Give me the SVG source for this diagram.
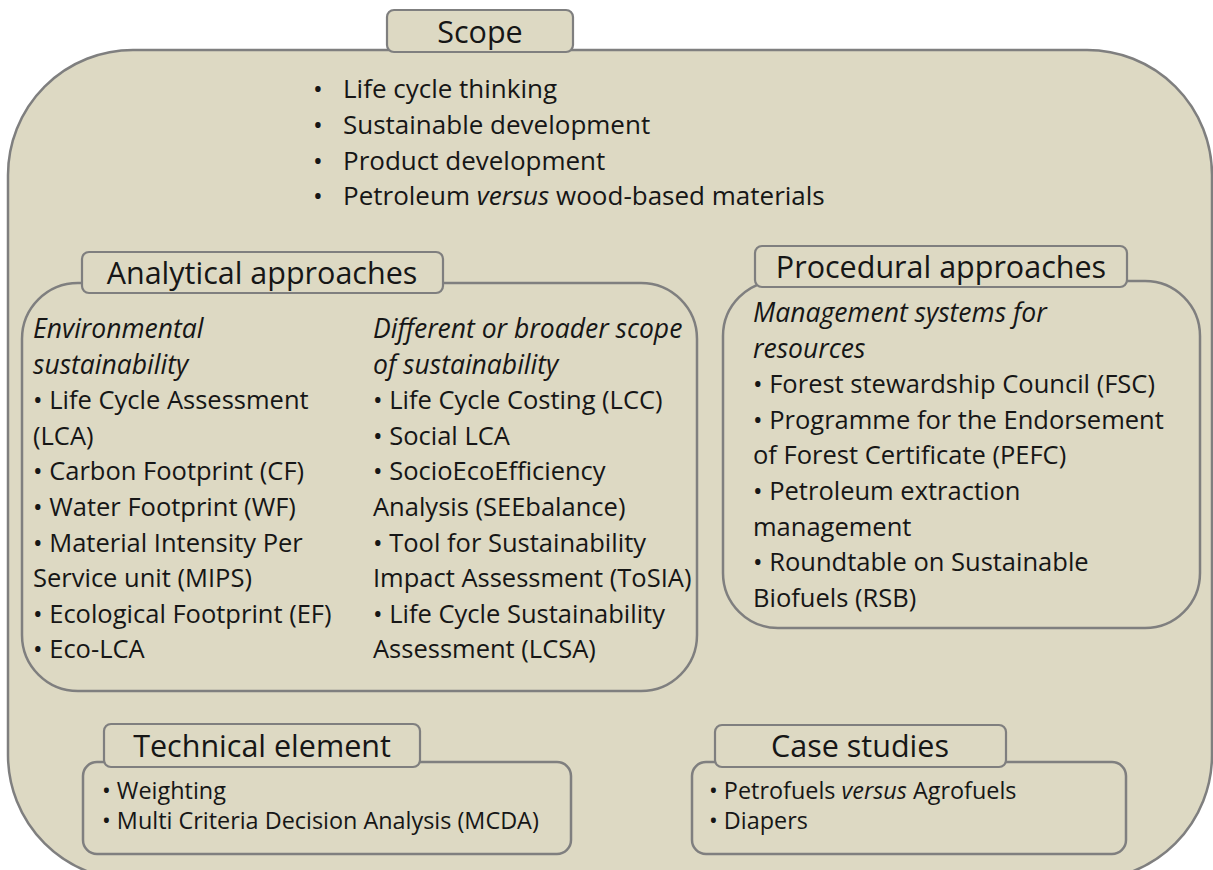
<svg xmlns="http://www.w3.org/2000/svg" width="1213" height="870" viewBox="0 0 1213 870">
<style>
.box{fill:#DDD9C3;stroke:#7f7f7f;stroke-width:2.5}
.tab{fill:#DDD9C3;stroke:#7f7f7f;stroke-width:2.2}
text{font-family:"Open Sans","Liberation Sans",sans-serif;fill:#161616}
.title{font-size:30.5px;text-anchor:middle}
.body{font-size:25.5px}
.scope{font-size:26px}
.small{font-size:23.4px}
.it{font-style:italic}
.body.it{font-size:26.5px}
</style>
<rect width="1213" height="870" fill="#ffffff"/>
<g id="scope">
<rect class="box" x="8" y="50" width="1204" height="830" rx="125"/>
<rect class="tab" x="387" y="10" width="186" height="42" rx="7"/>
<text class="title" x="480" y="43">Scope</text>
<text class="scope" x="313" y="98">•</text>
<text class="scope" x="343" y="98">Life cycle thinking</text>
<text class="scope" x="313" y="134">•</text>
<text class="scope" x="343" y="134">Sustainable development</text>
<text class="scope" x="313" y="170">•</text>
<text class="scope" x="343" y="170">Product development</text>
<text class="scope" x="313" y="205">•</text>
<text class="scope" x="343" y="205">Petroleum <tspan class="it">versus</tspan> wood-based materials</text>
</g>
<g id="analytical">
<rect class="box" x="22" y="283" width="675" height="408" rx="56"/>
<rect class="tab" x="82" y="252" width="361" height="41" rx="7"/>
<text class="title" x="262" y="284">Analytical approaches</text>
<text class="body it" x="33" y="338">Environmental</text>
<text class="body it" x="33" y="373.6">sustainability</text>
<text class="body" x="33" y="409.2">• Life Cycle Assessment</text>
<text class="body" x="33" y="444.8">(LCA)</text>
<text class="body" x="33" y="480.4">• Carbon Footprint (CF)</text>
<text class="body" x="33" y="516">• Water Footprint (WF)</text>
<text class="body" x="33" y="551.6">• Material Intensity Per</text>
<text class="body" x="33" y="587.2">Service unit (MIPS)</text>
<text class="body" x="33" y="622.8">• Ecological Footprint (EF)</text>
<text class="body" x="33" y="658.4">• Eco-LCA</text>
<text class="body it" x="373" y="338">Different or broader scope</text>
<text class="body it" x="373" y="373.6">of sustainability</text>
<text class="body" x="373" y="409.2">• Life Cycle Costing (LCC)</text>
<text class="body" x="373" y="444.8">• Social LCA</text>
<text class="body" x="373" y="480.4">• SocioEcoEfficiency</text>
<text class="body" x="373" y="516">Analysis (SEEbalance)</text>
<text class="body" x="373" y="551.6">• Tool for Sustainability</text>
<text class="body" x="373" y="587.2">Impact Assessment (ToSIA)</text>
<text class="body" x="373" y="622.8">• Life Cycle Sustainability</text>
<text class="body" x="373" y="658.4">Assessment (LCSA)</text>
</g>
<g id="procedural">
<rect class="box" x="723" y="281" width="477" height="347" rx="55"/>
<rect class="tab" x="755" y="246" width="372" height="41" rx="7"/>
<text class="title" x="941" y="278">Procedural approaches</text>
<text class="body it" x="753" y="322">Management systems for</text>
<text class="body it" x="753" y="357.6">resources</text>
<text class="body" x="753" y="393.2">• Forest stewardship Council (FSC)</text>
<text class="body" x="753" y="428.8">• Programme for the Endorsement</text>
<text class="body" x="753" y="464.4">of Forest Certificate (PEFC)</text>
<text class="body" x="753" y="500">• Petroleum extraction</text>
<text class="body" x="753" y="535.6">management</text>
<text class="body" x="753" y="571.2">• Roundtable on Sustainable</text>
<text class="body" x="753" y="606.8">Biofuels (RSB)</text>
</g>
<g id="technical">
<rect class="box" x="83" y="762" width="488" height="92" rx="14"/>
<rect class="tab" x="104" y="724" width="316" height="43" rx="7"/>
<text class="title" x="262" y="757">Technical element</text>
<text class="small" x="102" y="799">• Weighting</text>
<text class="small" x="102" y="829">• Multi Criteria Decision Analysis (MCDA)</text>
</g>
<g id="case">
<rect class="box" x="692" y="762" width="434" height="92" rx="14"/>
<rect class="tab" x="715" y="725" width="291" height="42" rx="7"/>
<text class="title" x="860" y="757">Case studies</text>
<text class="small" x="709" y="799">• Petrofuels <tspan class="it">versus</tspan> Agrofuels</text>
<text class="small" x="709" y="829">• Diapers</text>
</g>
<g id="connectors"/>
</svg>
